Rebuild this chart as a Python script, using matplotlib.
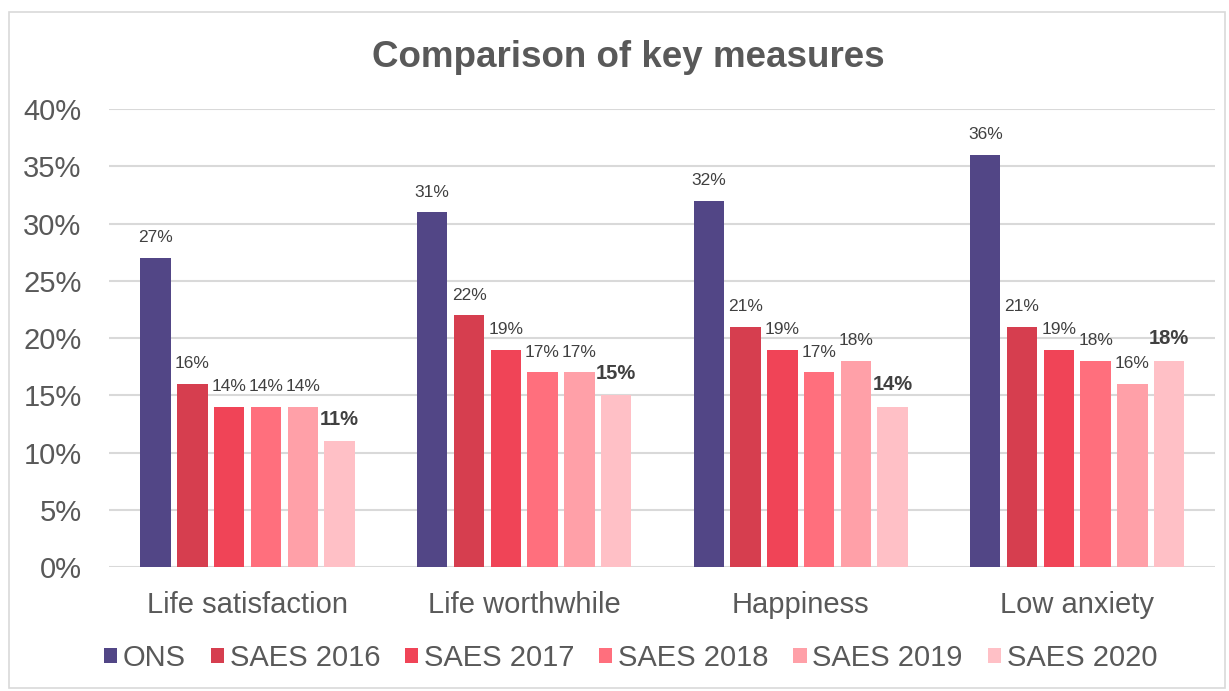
import matplotlib.pyplot as plt
import numpy as np
from matplotlib.patches import Rectangle

plt.rcParams['font.family'] = ['Liberation Sans', 'DejaVu Sans']

# Data
categories = ['Life satisfaction', 'Life worthwhile', 'Happiness', 'Low anxiety']
series_names = ['ONS', 'SAES 2016', 'SAES 2017', 'SAES 2018', 'SAES 2019', 'SAES 2020']
ons = [0.27, 0.31, 0.32, 0.36]
saes_2016 = [0.16, 0.22, 0.21, 0.21]
saes_2017 = [0.14, 0.19, 0.19, 0.19]
saes_2018 = [0.14, 0.17, 0.17, 0.18]
saes_2019 = [0.14, 0.17, 0.18, 0.16]
saes_2020 = [0.11, 0.15, 0.14, 0.18]
y_ticks = [0, 0.05, 0.10, 0.15, 0.20, 0.25, 0.30, 0.35, 0.40]

series = [ons, saes_2016, saes_2017, saes_2018, saes_2019, saes_2020]
colors = ['#524686', '#d63e4f', '#f04457', '#ff6f7d', '#ffa0a8', '#ffc0c6']

fig = plt.figure(figsize=(12.29, 6.91), dpi=100)
# outer chart border
fig.patches.append(Rectangle((9 / 1229, 3 / 691), 1216 / 1229, 676 / 691,
                             transform=fig.transFigure, fill=False,
                             edgecolor='#d9d9d9', linewidth=1.2))
ax = fig.add_axes([0.089, 0.1794, 0.900, 0.6627])

x = np.arange(len(categories))
pitch = 0.133
width = 0.11
for j, (name, vals, c) in enumerate(zip(series_names, series, colors)):
    pos = x + (j - 2.5) * pitch
    bars = ax.bar(pos, vals, width, color=c, label=name, zorder=3)
    last = j == len(series) - 1
    for b, v in zip(bars, vals):
        ax.annotate(f'{v * 100:.0f}%', (b.get_x() + b.get_width() / 2, v),
                    xytext=(0, 9), textcoords='offset points',
                    ha='center', va='bottom',
                    fontsize=14.5 if last else 12.5,
                    fontweight='bold' if last else 'normal',
                    color='#404040')

ax.set_xlim(-0.5, len(categories) - 0.5)
ax.set_ylim(0, 0.4)
ax.set_yticks(y_ticks)
ax.set_yticklabels([f'{t * 100:.0f}%' for t in y_ticks])
ax.set_xticks(x)
ax.set_xticklabels(categories)
ax.tick_params(axis='both', length=0, labelsize=21, labelcolor='#595959')
ax.tick_params(axis='x', pad=17)
ax.tick_params(axis='y', pad=20)
ax.grid(axis='y', color='#d9d9d9', linewidth=1.5, zorder=0)
for s in ax.spines.values():
    s.set_visible(False)

fig.text(0.511, 0.917, 'Comparison of key measures', ha='center', va='center',
         fontsize=26.5, fontweight='bold', color='#595959')

leg = fig.legend(loc='center', bbox_to_anchor=(0.513, 0.048), ncol=6,
                 frameon=False, fontsize=21, handlelength=0.45,
                 handleheight=0.45, handletextpad=0.2, columnspacing=0.85)
for t in leg.get_texts():
    t.set_color('#595959')

fig.savefig('out.png', dpi=100)
